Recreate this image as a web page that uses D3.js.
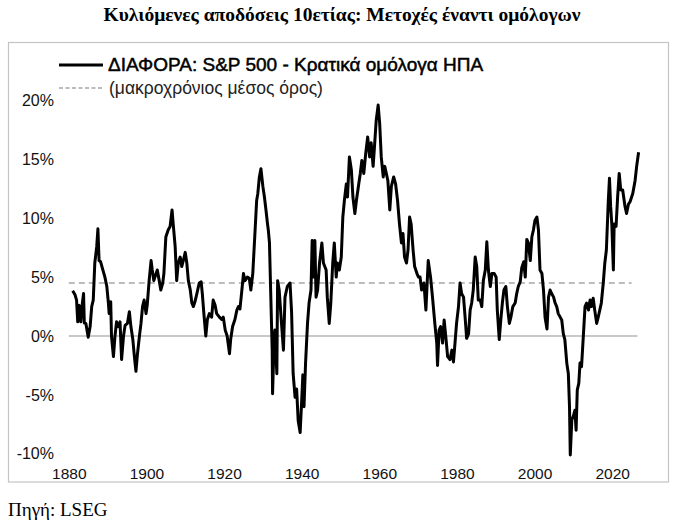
<!DOCTYPE html>
<html>
<head>
<meta charset="utf-8">
<script src="https://cdn.jsdelivr.net/npm/d3@7"></script>
<style>
  body { margin: 0; background: #fff; }
  svg { display: block; }
</style>
</head>
<body>
<svg id="chart" width="685" height="528"></svg>
<script>
// spread between rolling 10y S&P 500 returns and US govt bonds
var years = [
  1881.0, 1881.6, 1882.0, 1882.3, 1882.7, 1883.1, 1883.5, 1883.8, 1884.0, 1884.4,
  1885.0, 1885.5, 1885.9, 1886.3, 1886.7, 1887.2, 1887.5, 1887.8, 1888.2, 1888.7,
  1889.3, 1889.8, 1890.2, 1890.4, 1890.8, 1891.0, 1891.5, 1891.9, 1892.3, 1892.8,
  1893.2, 1893.6, 1894.1, 1894.5, 1895.1, 1895.6, 1896.0, 1896.5, 1896.9, 1897.3,
  1897.7, 1898.2, 1898.6, 1899.0, 1899.4, 1899.9, 1900.2, 1900.7, 1901.2, 1901.5,
  1901.9, 1902.5, 1902.8, 1903.3, 1903.7, 1904.2, 1904.5, 1905.0, 1905.6, 1906.1,
  1906.6, 1906.9, 1907.4, 1907.8, 1908.2, 1908.7, 1909.1, 1909.5, 1910.0, 1910.4,
  1910.8, 1911.3, 1911.7, 1912.1, 1912.5, 1913.0, 1913.6, 1914.1, 1914.4, 1914.8,
  1915.3, 1915.7, 1916.2, 1916.8, 1917.2, 1917.7, 1918.1, 1918.8, 1919.4, 1919.8,
  1920.3, 1920.8, 1921.4, 1921.7, 1922.2, 1922.8, 1923.3, 1923.7, 1924.1, 1924.5,
  1925.0, 1925.4, 1926.0, 1926.5, 1926.9, 1927.4, 1928.0, 1928.4, 1928.7, 1929.1,
  1929.5, 1930.0, 1930.4, 1930.8, 1931.2, 1931.4, 1931.7, 1932.0, 1932.4, 1932.5,
  1932.9, 1933.1, 1933.6, 1933.8, 1934.2, 1934.8, 1935.3, 1935.7, 1936.3, 1937.0,
  1937.4, 1937.8, 1938.3, 1938.7, 1939.1, 1939.6, 1940.0, 1940.3, 1940.6, 1941.0,
  1941.5, 1941.9, 1942.4, 1942.7, 1943.1, 1943.4, 1943.7, 1944.1, 1944.6, 1945.2,
  1945.6, 1946.3, 1946.6, 1947.1, 1947.5, 1948.0, 1948.4, 1948.9, 1949.2, 1949.7,
  1950.2, 1950.6, 1951.0, 1951.5, 1951.8, 1952.3, 1952.8, 1953.2, 1953.7, 1954.1,
  1954.7, 1955.1, 1955.5, 1956.0, 1956.5, 1957.0, 1957.5, 1957.9, 1958.4, 1958.7,
  1959.2, 1959.7, 1960.1, 1960.5, 1961.0, 1961.4, 1961.8, 1962.2, 1962.7, 1963.1,
  1963.7, 1964.2, 1964.7, 1965.2, 1965.7, 1966.1, 1966.5, 1967.0, 1967.4, 1967.8,
  1968.2, 1968.7, 1969.1, 1969.7, 1970.1, 1970.5, 1970.9, 1971.5, 1972.0, 1972.6,
  1973.2, 1973.7, 1974.3, 1974.8, 1975.0, 1975.4, 1975.8, 1976.3, 1976.7, 1977.2,
  1977.6, 1978.2, 1978.7, 1979.1, 1979.5, 1979.9, 1980.4, 1980.8, 1981.2, 1981.7,
  1982.1, 1982.5, 1983.0, 1983.4, 1983.8, 1984.2, 1984.7, 1985.1, 1985.5, 1986.0,
  1986.4, 1986.8, 1987.3, 1987.7, 1988.1, 1988.6, 1989.0, 1989.6, 1990.1, 1990.4,
  1990.9, 1991.3, 1991.7, 1992.1, 1992.6, 1993.0, 1993.5, 1993.9, 1994.4, 1995.0,
  1995.4, 1995.8, 1996.3, 1996.7, 1997.2, 1997.6, 1998.0, 1998.4, 1998.9, 1999.3,
  1999.7, 2000.1, 2000.6, 2001.0, 2001.4, 2001.9, 2002.3, 2002.7, 2003.2, 2003.6,
  2004.0, 2004.4, 2004.9, 2005.3, 2005.7, 2006.1, 2006.6, 2007.0, 2007.4, 2007.8,
  2008.3, 2008.7, 2009.0, 2009.2, 2009.6, 2010.0, 2010.4, 2010.7, 2011.0, 2011.4,
  2011.7, 2012.1, 2012.6, 2013.0, 2013.4, 2013.9, 2014.3, 2014.7, 2015.1, 2015.5,
  2016.0, 2016.4, 2016.8, 2017.2, 2017.7, 2018.1, 2018.5, 2019.0, 2019.3, 2019.6,
  2019.9, 2020.3, 2020.5, 2021.0, 2021.4, 2021.8, 2022.2, 2022.7, 2023.3, 2023.7,
  2024.2, 2024.6, 2025.3, 2025.9, 2026.3, 2026.8
];
var spread = [
  3.84, 3.5, 3.05, 1.2, 2.6, 1.2, 2.8, 3.6, 1.1, 1.07,
  -0.1, 0.8, 2.5, 3.05, 6.2, 7.6, 9.1, 6.4, 6.3, 5.7,
  5.0, 4.2, 2.8, 1.9, 2.9, 0.0, -1.75, 0.0, 1.2, 0.8,
  1.2, -2.0, 0.0, 0.9, 1.07, 2.06, 0.8, -0.3, -1.75, -3.0,
  -1.5, 0.0, 1.07, 2.5, 3.05, 1.9, 2.6, 4.7, 6.4, 5.6,
  4.7, 5.3, 5.6, 4.7, 3.9, 4.5, 5.3, 8.4, 9.0, 9.3,
  10.7, 9.5, 7.6, 4.7, 6.2, 6.7, 5.9, 6.4, 7.1, 6.2,
  4.7, 3.9, 2.8, 2.5, 2.9, 3.6, 4.5, 4.6, 3.6, 1.9,
  0.0, 1.4, 1.9, 1.6, 3.05, 2.6, 1.9, 1.6, 1.4, 1.6,
  0.5, 0.0, -1.5, -0.3, 0.8, 1.4, 2.2, 2.5, 2.3, 3.6,
  5.3, 4.7, 5.0, 4.9, 3.9, 5.3, 9.0, 11.5, 12.1, 13.5,
  14.2, 12.7, 11.8, 10.7, 9.5, 9.0, 7.9, 3.9, -1.2, -4.9,
  -0.3, 0.5, -3.2, 4.7, 3.9, 1.07, -1.2, 3.3, 4.2, 4.5,
  2.0, -3.2, -5.2, -4.5, -7.2, -8.2, -5.5, -3.3, -6.0, -2.3,
  1.07, 2.8, 3.9, 8.1, 5.0, 8.1, 3.3, 3.9, 6.2, 7.9,
  6.2, 5.6, 3.3, 1.07, 2.8, 6.2, 7.9, 5.0, 6.2, 5.6,
  6.7, 10.1, 11.5, 12.9, 11.8, 15.2, 14.1, 11.8, 10.4, 11.5,
  12.9, 13.8, 14.9, 13.8, 15.5, 16.9, 15.2, 16.4, 14.4, 15.8,
  18.3, 19.6, 18.0, 15.2, 13.5, 14.4, 13.8, 13.2, 10.7, 12.7,
  13.5, 12.9, 11.5, 9.5, 7.9, 8.7, 6.7, 6.2, 7.3, 10.1,
  9.5, 7.3, 5.9, 5.3, 5.0, 5.0, 3.9, 4.5, 2.2, 6.4,
  5.0, 3.3, 1.07, -0.6, -2.5, 0.5, 0.8, -0.6, 1.36, -0.3,
  -1.75, -2.0, -1.2, -2.2, -0.6, 1.07, 2.5, 4.5, 3.6, 3.3,
  1.6, -0.2, 0.2, 2.2, 2.8, 3.9, 6.7, 5.9, 3.05, 3.05,
  2.5, 4.7, 5.6, 8.0, 5.6, 4.2, 5.3, 5.3, 5.0, 2.2,
  -0.3, 1.36, 2.8, 3.9, 4.2, 2.5, 1.07, 1.6, 2.5, 2.8,
  3.6, 4.2, 4.6, 5.8, 6.3, 5.0, 8.2, 7.9, 6.4, 8.4,
  9.0, 9.8, 10.1, 9.0, 5.6, 5.3, 3.9, 1.6, 0.6, 3.3,
  3.9, 3.6, 3.3, 2.8, 2.5, 1.9, 1.6, 1.36, 0.2, -0.3,
  -2.3, -3.2, -6.0, -10.1, -7.1, -6.8, -6.3, -8.0, -4.6, -4.0,
  -2.3, -2.6, 0.2, 2.5, 2.8, 2.2, 3.05, 2.5, 3.2, 2.2,
  1.07, 1.6, 2.2, 2.8, 4.5, 6.2, 7.3, 11.5, 13.4, 11.0,
  9.5, 5.6, 9.5, 9.3, 11.8, 13.8, 12.4, 12.4, 11.0, 10.4,
  11.2, 11.4, 12.1, 13.2, 14.4, 15.6
];
var longRunAverage = 4.5;
var yearTicks = [1880, 1900, 1920, 1940, 1960, 1980, 2000, 2020];
var pctTicks = [-10, -5, 0, 5, 10, 15, 20];
var ruleYears = [1880.0, 2026.5];
var avgYears = [1880.0, 2025.0];

var svg = d3.select("#chart");

var x = d3.scaleLinear().domain([1880, 2020]).range([68.8, 612.2]);
var y = d3.scaleLinear().domain([-10, 20]).range([453.8, 100.4]);

// title
svg.append("text")
    .attr("x", 342)
    .attr("y", 21)
    .attr("text-anchor", "middle")
    .style("font-family", "'Liberation Serif', 'Times New Roman', serif")
    .style("font-weight", "bold")
    .style("font-size", "19.5px")
    .text("Κυλιόμενες αποδόσεις 10ετίας: Μετοχές έναντι ομόλογων");

// frame
svg.append("rect")
    .attr("x", 8.5)
    .attr("y", 42.5)
    .attr("width", 660)
    .attr("height", 439.5)
    .style("fill", "none")
    .style("stroke", "#c4c4c4")
    .style("stroke-width", 1.2);

// zero line
svg.append("line")
    .attr("x1", x(ruleYears[0]))
    .attr("x2", x(ruleYears[1]))
    .attr("y1", y(0))
    .attr("y2", y(0))
    .style("stroke", "#c8c8c8")
    .style("stroke-width", 2);

// long run average
svg.append("line")
    .attr("x1", x(avgYears[0]))
    .attr("x2", x(avgYears[1]))
    .attr("y1", y(longRunAverage))
    .attr("y2", y(longRunAverage))
    .style("stroke", "#a6a6a6")
    .style("stroke-width", 1.5)
    .style("stroke-dasharray", "6,4");

// axes
var yAxis = d3.axisLeft(y)
    .tickValues(pctTicks)
    .tickSize(0)
    .tickPadding(0)
    .tickFormat(function (d) { return d + "%"; });

var gy = svg.append("g")
    .attr("transform", "translate(54,0)")
    .call(yAxis);
gy.select(".domain").remove();
gy.selectAll("text")
    .style("font-family", "'Liberation Sans', Arial, sans-serif")
    .style("font-size", "16px")
    .style("fill", "#111");

var xAxis = d3.axisBottom(x)
    .tickValues(yearTicks)
    .tickSize(0)
    .tickPadding(0)
    .tickFormat(d3.format("d"));

var gx = svg.append("g")
    .attr("transform", "translate(0,468)")
    .call(xAxis);
gx.select(".domain").remove();
gx.selectAll("text")
    .style("font-family", "'Liberation Sans', Arial, sans-serif")
    .style("font-size", "15.5px")
    .style("fill", "#111");

// the series
var line = d3.line()
    .x(function (d, i) { return x(years[i]); })
    .y(function (d) { return y(d); });

svg.append("path")
    .datum(spread)
    .attr("d", line)
    .style("fill", "none")
    .style("stroke", "#000")
    .style("stroke-width", 3)
    .style("stroke-linejoin", "round");

// legend
var legend = svg.append("g");
legend.append("line")
    .attr("x1", 59).attr("x2", 103)
    .attr("y1", 65).attr("y2", 65)
    .style("stroke", "#000")
    .style("stroke-width", 3);
legend.append("text")
    .attr("x", 108)
    .attr("y", 71)
    .style("font-family", "'Liberation Sans', Arial, sans-serif")
    .style("font-size", "19px")
    .style("fill", "#000")
    .style("stroke", "#000")
    .style("stroke-width", 0.5)
    .text("ΔΙΑΦΟΡΑ: S&P 500 - Κρατικά ομόλογα ΗΠΑ");
legend.append("line")
    .attr("x1", 59).attr("x2", 103)
    .attr("y1", 88).attr("y2", 88)
    .style("stroke", "#a6a6a6")
    .style("stroke-width", 1.3)
    .style("stroke-dasharray", "4,2.5");
legend.append("text")
    .attr("x", 109)
    .attr("y", 94)
    .style("font-family", "'Liberation Sans', Arial, sans-serif")
    .style("font-size", "17.5px")
    .style("fill", "#222")
    .text("(μακροχρόνιος μέσος όρος)");

// source
svg.append("text")
    .attr("x", 8)
    .attr("y", 516)
    .style("font-family", "'Liberation Serif', 'Times New Roman', serif")
    .style("font-size", "19px")
    .text("Πηγή: LSEG");
</script>
</body>
</html>
